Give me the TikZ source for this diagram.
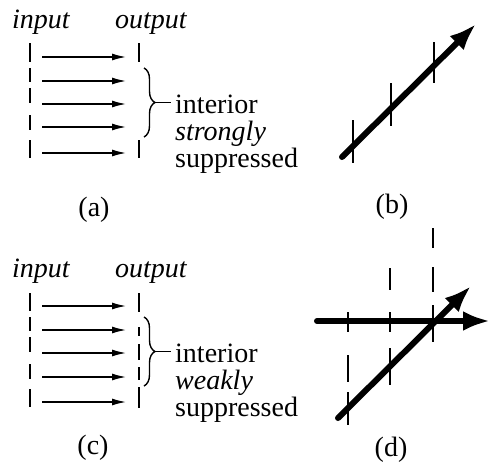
\documentclass[tikz,border=0pt]{standalone}
\usepackage{fontspec}
\setmainfont{Liberation Serif}
\usetikzlibrary{arrows.meta,decorations.pathreplacing}
\begin{document}
\begin{tikzpicture}[x=1pt,y=-1pt,
  thinarrow/.style={line width=1.4pt,-{Latex[length=14pt,width=7pt]}},
  guide/.style={line width=1.4pt},
  bigarrow/.style={line width=6pt,line cap=round,-{Latex[length=27pt,width=20pt]}},
  lab/.style={font=\fontsize{28}{30}\selectfont,inner sep=0pt,anchor=base west},
  itlab/.style={lab,font=\fontsize{28}{30}\selectfont\itshape},
  captext/.style={font=\fontsize{28}{30}\selectfont,inner sep=0pt,anchor=base},
  bracestyle/.style={line width=1.4pt,decorate,decoration={brace,amplitude=11pt}}]
\useasboundingbox (0,0) rectangle (490,463);

% ---------- panel (a)
\node[itlab] (ina) at (12,28) {input};
\node[itlab] (outa) at (115,28) {output};
\foreach \p/\q in {43/62,68/82,88/103,115/130,140/158}
  \draw[guide] (30,\p) -- (30,\q);
\foreach \p/\q in {43/62,140/158}
  \draw[guide] (139,\p) -- (139,\q);
\foreach \y [count=\i] in {57,81,104,127,153}{
  \coordinate (as\i) at (42,\y);
  \coordinate (ae\i) at (126,\y);
  \draw[thinarrow] (as\i) -- (ae\i);
}
\coordinate (abt) at (144,68);
\coordinate (abb) at (144,137);
\draw[bracestyle] (abt) -- (abb);
\coordinate (abtip) at (155,102.5);
\coordinate (abend) at (171,102.5);
\draw[guide] (abtip) -- (abend);
\node[lab] (a1) at (175,113) {interior};
\node[itlab] (a2) at (175,140) {strongly};
\node[lab] (a3) at (175,167) {suppressed};
\node[captext] (capa) at (94,216) {(a)};

% ---------- panel (b)
\foreach \x/\p/\q in {353/120/163,391/83/126,434/42/83}
  \draw[guide] (\x,\p) -- (\x,\q);
\coordinate (bs) at (342,157);
\coordinate (be) at (476,24);
\draw[bigarrow] (bs) -- (be);
\node[captext] (capb) at (392,213) {(b)};

% ---------- panel (c)
\node[itlab] (inc) at (12,277) {input};
\node[itlab] (outc) at (115,277) {output};
\foreach \p/\q in {293/311,317/331,337/352,364/379,389/407}
  \draw[guide] (30,\p) -- (30,\q);
\foreach \p/\q in {293/312,327/336,344/360,367/380,387/408}
  \draw[guide] (139,\p) -- (139,\q);
\foreach \y [count=\i] in {306,330,353,377,402}{
  \coordinate (cs\i) at (42,\y);
  \coordinate (ce\i) at (126,\y);
  \draw[thinarrow] (cs\i) -- (ce\i);
}
\coordinate (cbt) at (144,317);
\coordinate (cbb) at (144,386);
\draw[bracestyle] (cbt) -- (cbb);
\coordinate (cbtip) at (155,351.5);
\coordinate (cbend) at (171,351.5);
\draw[guide] (cbtip) -- (cbend);
\node[lab] (c1) at (175,362) {interior};
\node[itlab] (c2) at (175,389) {weakly};
\node[lab] (c3) at (175,416) {suppressed};
\node[captext] (capc) at (93,454) {(c)};

% ---------- panel (d)
\foreach \p/\q in {312/332,355/382,392/425}
  \draw[guide] (348,\p) -- (348,\q);
\foreach \p/\q in {268/290,312/332,348/385}
  \draw[guide] (390,\p) -- (390,\q);
\foreach \p/\q in {228/248,267/292,305/342}
  \draw[guide] (433,\p) -- (433,\q);
\coordinate (hs) at (317,321);
\coordinate (he) at (490,321);
\draw[bigarrow] (hs) -- (he);
\coordinate (ds) at (338,418);
\coordinate (de) at (471,286);
\draw[bigarrow] (ds) -- (de);
\node[captext] (capd) at (391,456) {(d)};
\end{tikzpicture}
\end{document}
